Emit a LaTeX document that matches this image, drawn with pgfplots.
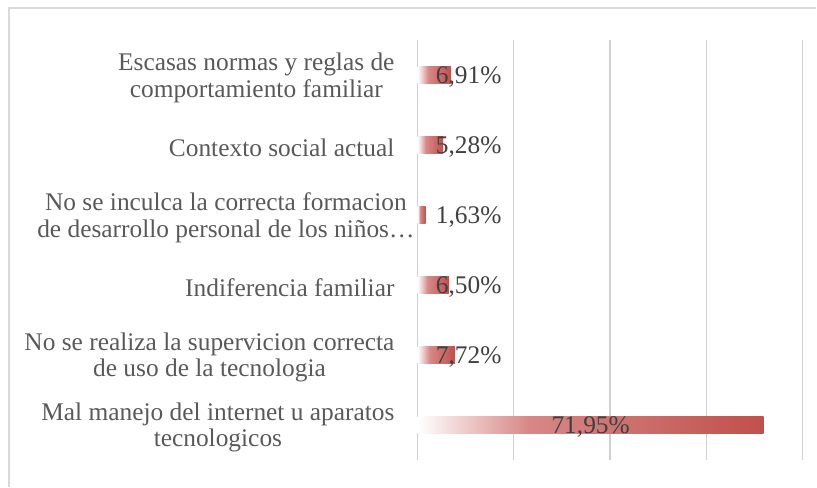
\documentclass[border=0pt]{standalone}
\usepackage{pgfplots}
\pgfplotsset{compat=1.18}
\usepackage{fontspec}
\setmainfont{Liberation Serif}
\definecolor{barred}{HTML}{C0504D}
\definecolor{barmid}{HTML}{D68887}
\definecolor{lab}{HTML}{595959}
\definecolor{val}{HTML}{404040}
\definecolor{gridc}{HTML}{D0D0D0}
\definecolor{bordc}{HTML}{D9D9D9}
\pgfdeclarehorizontalshading{barshade}{100bp}{color(0bp)=(white); color(25bp)=(white); color(41bp)=(barmid); color(75bp)=(barred); color(100bp)=(barred)}
\pgfplotsset{onebar/.style={draw=none, shade, shading=barshade, bar shift=0pt}}
\begin{document}
\begin{tikzpicture}[x=1bp,y=1bp]
\path (0,0) rectangle (817,487);
\draw[bordc, line width=1.3bp] (9,0) -- (9,479) -- (817,479);
\begin{axis}[
  at={(418bp,27bp)}, anchor=south west,
  scale only axis, width=385bp, height=420bp,
  xmin=0, xmax=80, ymin=-0.5, ymax=5.5,
  xbar, bar width=17bp,
  xtick={20,40,60,80}, xticklabels={},
  extra x ticks={0}, extra x tick labels={},
  extra x tick style={grid style={bordc, line width=3bp}},
  extra y ticks={3},
  extra y tick labels={{No se inculca la correcta formacion\\de desarrollo personal de los niños…}},
  extra y tick style={yticklabel style={xshift=20bp}},
  xmajorgrids, major grid style={gridc, line width=1.3bp},
  axis line style={draw=none},
  major tick length=0pt,
  ytick={0,1,2,4,5},
  yticklabels={{Mal manejo del internet u aparatos\\tecnologicos},
               {No se realiza la supervicion correcta\\de uso de la tecnologia},
               {Indiferencia familiar},
               {Contexto social actual},
               {Escasas normas y reglas de\\comportamiento familiar}},
  yticklabel style={align=center, font=\fontsize{25.5}{26.5}\selectfont, text=lab, inner sep=0pt, xshift=-23bp, yshift=-3bp},
  clip=false,
]
\addplot[onebar] coordinates {(71.95,0)};
\addplot[onebar] coordinates {(7.72,1)};
\addplot[onebar] coordinates {(6.50,2)};
\addplot[onebar] coordinates {(1.63,3)};
\addplot[onebar] coordinates {(5.28,4)};
\addplot[onebar] coordinates {(6.91,5)};
\begin{scope}[every node/.style={text=val, font=\fontsize{25.5}{26.5}\selectfont, inner sep=0pt, yshift=-2.5bp}]
\node at (axis cs:35.975,0) {71,95\%};
\node at (axis cs:10.6,1) {7,72\%};
\node at (axis cs:10.6,2) {6,50\%};
\node at (axis cs:10.6,3) {1,63\%};
\node at (axis cs:10.6,4) {5,28\%};
\node at (axis cs:10.6,5) {6,91\%};
\end{scope}
\end{axis}
\end{tikzpicture}
\end{document}
